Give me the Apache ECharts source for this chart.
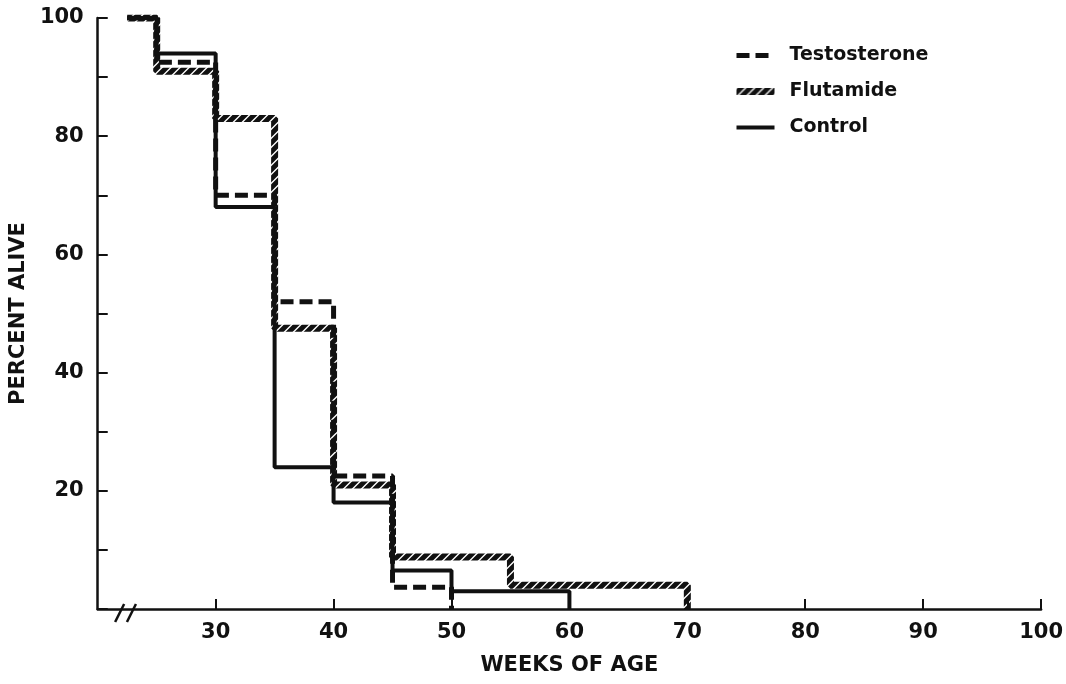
<!DOCTYPE html>
<html>
<head>
<meta charset="utf-8">
<script src="https://cdn.jsdelivr.net/npm/echarts@6/dist/echarts.min.js"></script>
<style>
  html, body { margin: 0; padding: 0; background: #fff; }
  #main { width: 1066px; height: 684px; }
</style>
</head>
<body>
<div id="main"></div>
<script>
// weeks of age where each step begins, and percent alive from there on
var controlWeeks = [22.5, 25, 30, 35, 40, 45, 50, 60];
var controlPct   = [100, 94, 68, 24, 18, 6.5, 3, 0];

var testoWeeks = [22.5, 25, 30, 35, 40, 45, 50];
var testoPct   = [100, 92.5, 70, 52, 22.5, 3.7, 0];

var flutaWeeks = [22.5, 25, 30, 35, 40, 45, 55, 70];
var flutaPct   = [100, 91, 83, 47.5, 21, 8.8, 4, 0];

var xTicks = [30, 40, 50, 60, 70, 80, 90, 100];
var yTicks = [20, 40, 60, 80, 100];

function pairs(xs, ys) {
  return xs.map(function (x, i) { return [x, ys[i]]; });
}

// hatch pattern for the flutamide line
var hatch = document.createElement('canvas');
hatch.width = 9; hatch.height = 9;
var hc = hatch.getContext('2d');
hc.strokeStyle = '#111';
hc.lineWidth = 5;
hc.beginPath();
hc.moveTo(-2, 11); hc.lineTo(11, -2);
hc.moveTo(-7, 7); hc.lineTo(7, -7);
hc.moveTo(2, 16); hc.lineTo(16, 2);
hc.stroke();

var font = 'DejaVu Sans, Liberation Sans, sans-serif';
var ink = '#111';

var styles = {
  Testosterone: { color: ink, width: 5, type: [13, 6] },
  Flutamide: { color: { image: hatch, repeat: 'repeat' }, width: 7 },
  Control: { color: ink, width: 4 }
};

var chart = echarts.init(document.getElementById('main'));
var option = {
  animation: false,
  textStyle: { fontFamily: font },
  grid: { left: 97, right: 23, top: 18, bottom: 75 },
  legend: {
    orient: 'vertical',
    left: 728,
    top: 41,
    itemGap: 17,
    itemWidth: 38,
    itemHeight: 16,
    itemStyle: { opacity: 0 },
    textStyle: { fontFamily: font, fontSize: 19, fontWeight: 'bold', color: ink,
      padding: [0, 0, 0, 10] },
    data: ['Testosterone', 'Flutamide', 'Control'].map(function (n) {
      return { name: n, lineStyle: styles[n] };
    })
  },
  xAxis: {
    type: 'value',
    min: 20, max: 100, interval: 10,
    splitLine: { show: false },
    axisLine: { lineStyle: { color: ink, width: 2.5 } },
    axisTick: { inside: true, length: 10, lineStyle: { color: ink, width: 2 },
      customValues: xTicks },
    axisLabel: { color: ink, fontSize: 21, fontWeight: 'bold', margin: 13,
      customValues: xTicks },
    name: 'WEEKS OF AGE',
    nameLocation: 'middle',
    nameGap: 46,
    nameTextStyle: { color: ink, fontSize: 21, fontWeight: 'bold' }
  },
  yAxis: {
    type: 'value',
    min: 0, max: 100, interval: 10,
    splitLine: { show: false },
    axisLine: { lineStyle: { color: ink, width: 2.5 } },
    axisTick: { inside: true, length: 10, lineStyle: { color: ink, width: 2 } },
    axisLabel: { color: ink, fontSize: 21, fontWeight: 'bold', margin: 14,
      customValues: yTicks },
    name: 'PERCENT ALIVE',
    nameLocation: 'middle',
    nameGap: 64,
    nameTextStyle: { color: ink, fontSize: 21, fontWeight: 'bold' }
  },
  series: [
    {
      name: 'Testosterone', type: 'line', step: 'end', symbol: 'none',
      data: pairs(testoWeeks, testoPct),
      lineStyle: styles.Testosterone,
      itemStyle: { color: ink }
    },
    {
      name: 'Flutamide', type: 'line', step: 'end', symbol: 'none',
      data: pairs(flutaWeeks, flutaPct),
      lineStyle: styles.Flutamide,
      itemStyle: { color: ink }
    },
    {
      name: 'Control', type: 'line', step: 'end', symbol: 'none',
      data: pairs(controlWeeks, controlPct),
      lineStyle: styles.Control,
      itemStyle: { color: ink }
    }
  ]
};
chart.setOption(option);

// axis break marks "//" near the origin
var y0 = chart.convertToPixel({ gridIndex: 0 }, [0, 0])[1];
var breaks = [21.9, 22.9].map(function (w) {
  var x = chart.convertToPixel({ gridIndex: 0 }, [w, 0])[0];
  return {
    type: 'line',
    shape: { x1: x - 5, y1: y0 + 13, x2: x + 4, y2: y0 - 5 },
    style: { stroke: ink, lineWidth: 2.5 }
  };
});
chart.setOption({ graphic: breaks });
</script>
</body>
</html>
